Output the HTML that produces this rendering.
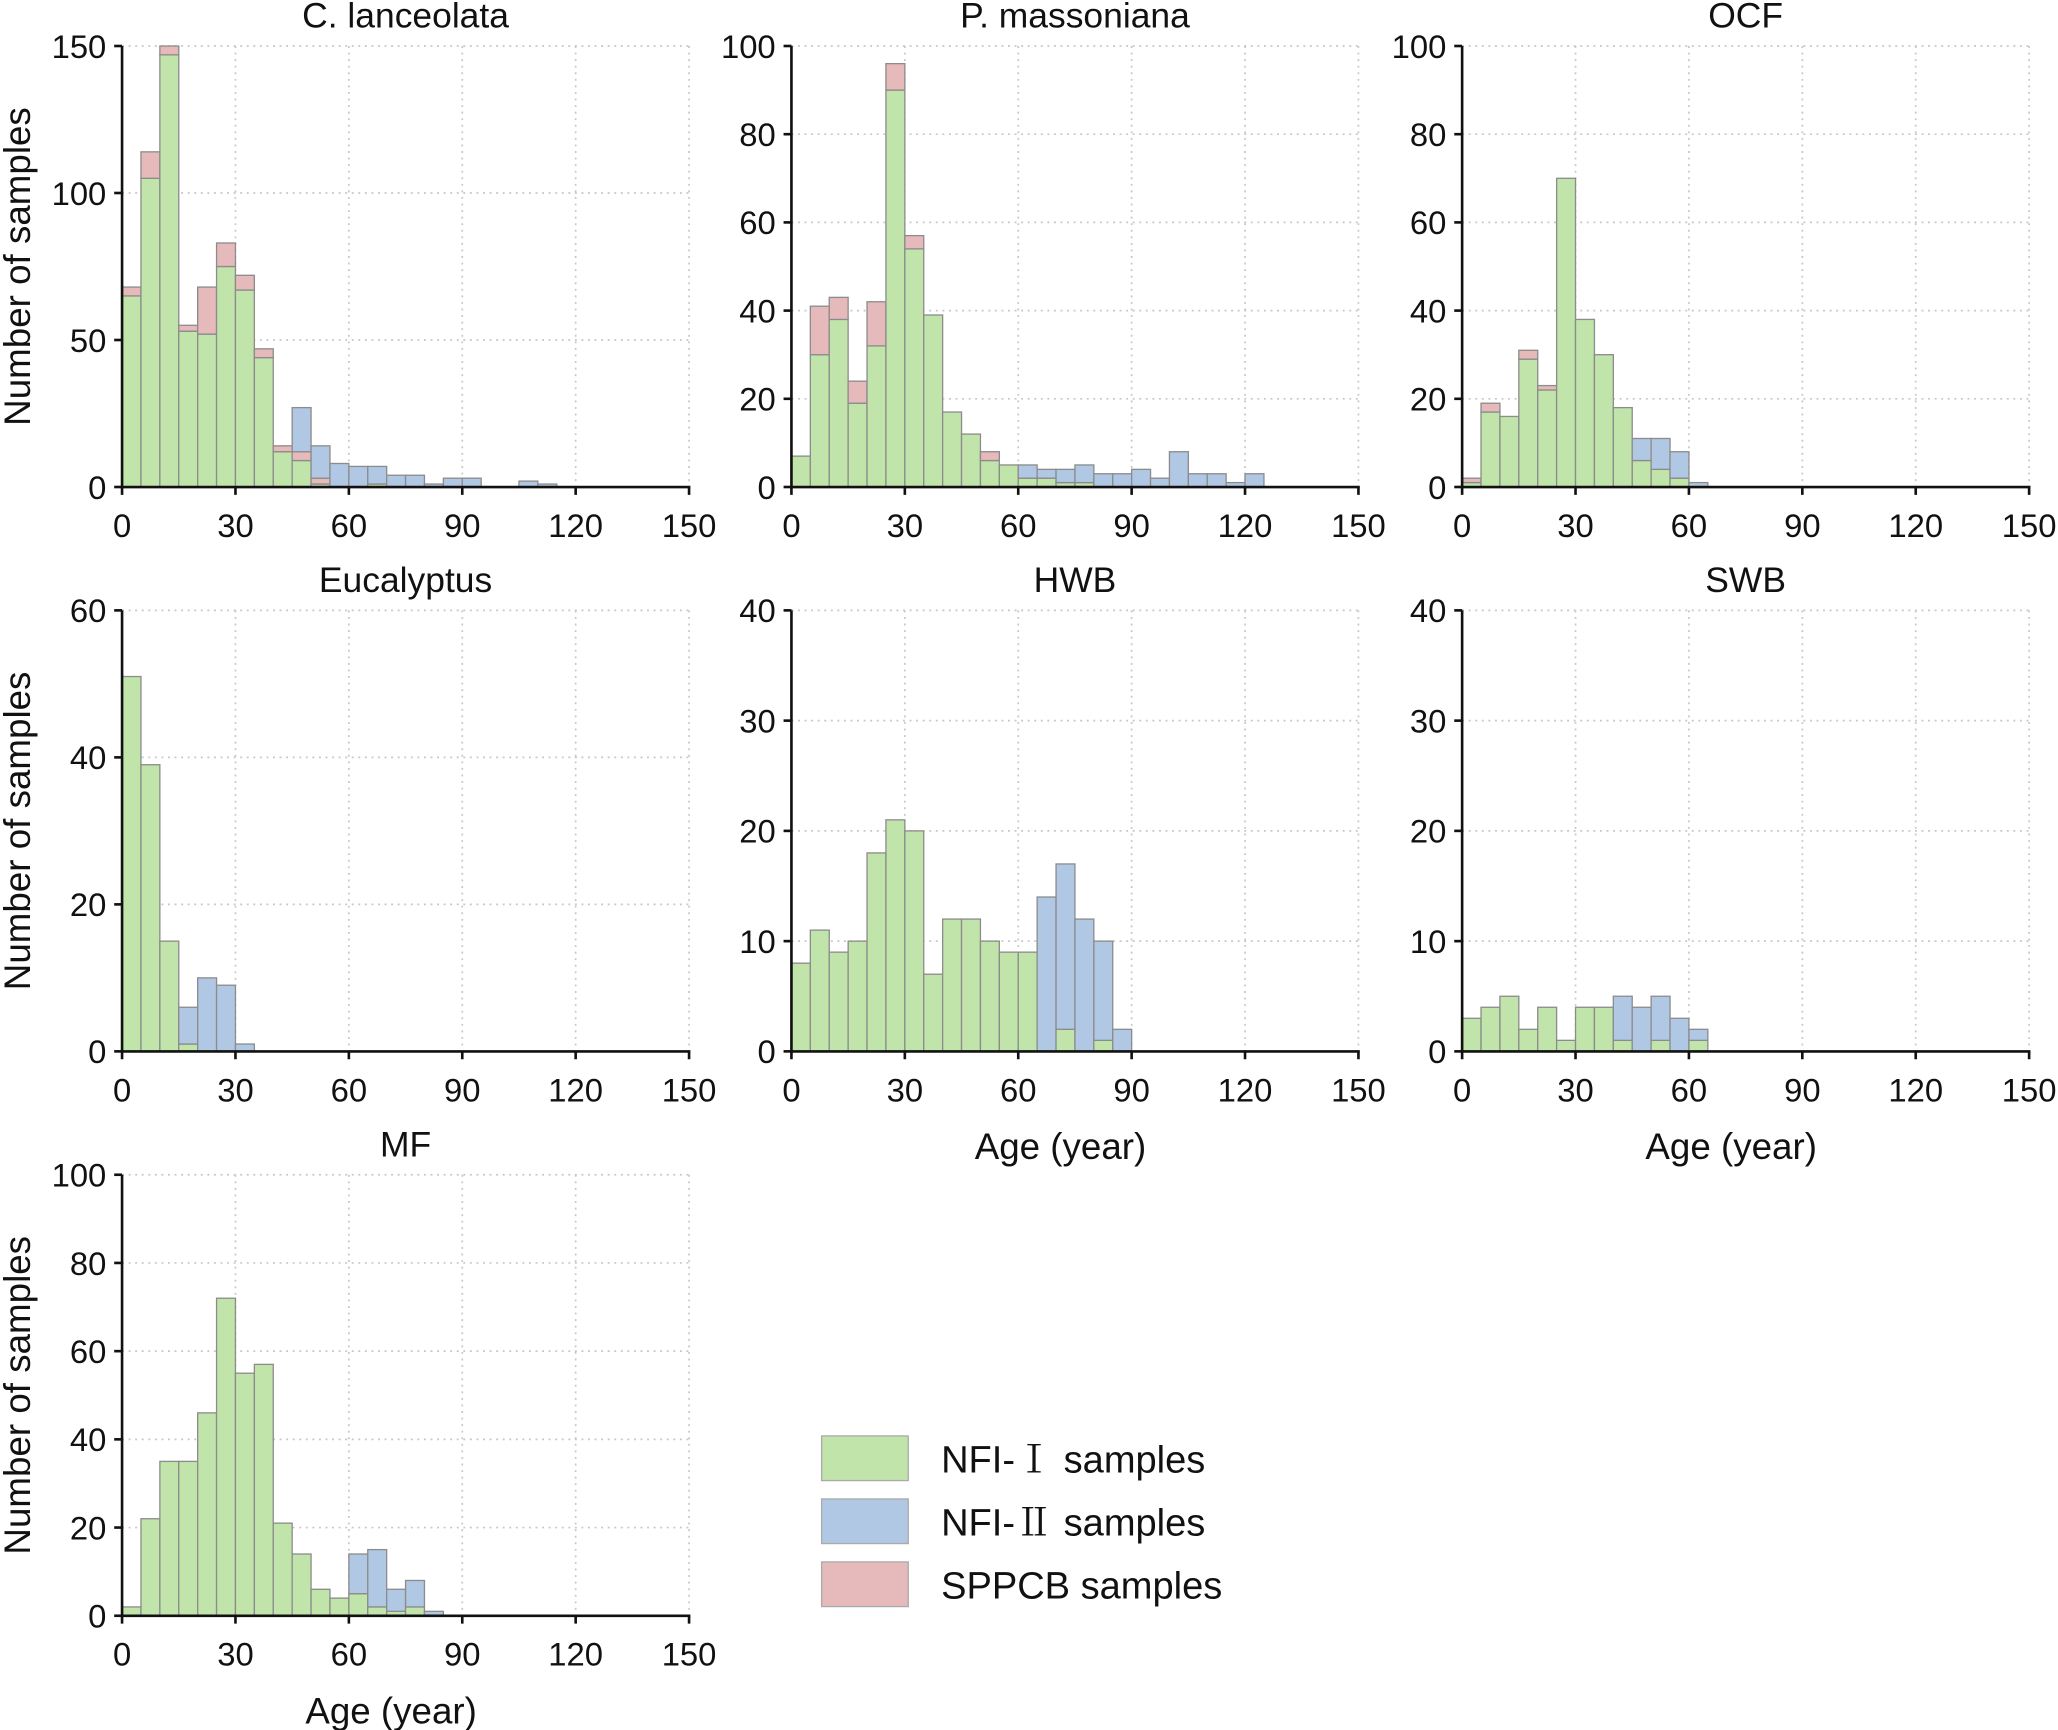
<!DOCTYPE html>
<html><head><meta charset="utf-8">
<style>
html,body{margin:0;padding:0;background:#fff;}
svg{display:block;}
text{font-family:"Liberation Sans","Noto Sans CJK SC",sans-serif;fill:#111;}
</style></head>
<body>
<svg id="chart" width="2058" height="1730" viewBox="0 0 1568 1318" xmlns="http://www.w3.org/2000/svg"></svg>
<script>
// Shared axis data
const xTicks = [0, 30, 60, 90, 120, 150];
const binWidth = 5;

// C. lanceolata
const clGreen = [65,105,147,53,52,75,67,44,12,9,1,0,0,1];
const clPink  = [3,9,3,2,16,8,5,3,2,3,2];
const clBlue  = [0,0,0,0,0,0,0,0,0,15,11,8,7,6,4,4,1,3,3,0,0,2,1];
const clTicks = [0,50,100,150];
// P. massoniana
const pmGreen = [7,30,38,19,32,90,54,39,17,12,6,5,2,2,1,1];
const pmPink  = [0,11,5,5,10,6,3,0,0,0,2];
const pmBlue  = [0,0,0,0,0,0,0,0,0,0,0,0,3,2,3,4,3,3,4,2,8,3,3,1,3];
const pmTicks = [0,20,40,60,80,100];
// OCF
const ocGreen = [1,17,16,29,22,70,38,30,18,6,4,2];
const ocPink  = [1,2,0,2,1];
const ocBlue  = [0,0,0,0,0,0,0,0,0,5,7,6,1];
const ocTicks = [0,20,40,60,80,100];
// Eucalyptus
const euGreen = [51,39,15,1];
const euPink  = [];
const euBlue  = [0,0,0,5,10,9,1];
const euTicks = [0,20,40,60];
// HWB
const hwGreen = [8,11,9,10,18,21,20,7,12,12,10,9,9,0,2,0,1];
const hwPink  = [];
const hwBlue  = [0,0,0,0,0,0,0,0,0,0,0,0,0,14,15,12,9,2];
const hwTicks = [0,10,20,30,40];
// SWB
const swGreen = [3,4,5,2,4,1,4,4,1,0,1,0,1];
const swPink  = [];
const swBlue  = [0,0,0,0,0,0,0,0,4,4,4,3,1];
const swTicks = [0,10,20,30,40];
// MF
const mfGreen = [2,22,35,35,46,72,55,57,21,14,6,4,5,2,1,2];
const mfPink  = [];
const mfBlue  = [0,0,0,0,0,0,0,0,0,0,0,0,9,13,5,6,1];
const mfTicks = [0,20,40,60,80,100];

const NS = "http://www.w3.org/2000/svg";
const svg = document.getElementById('chart');
function mk(tag, attrs, parent){
  const e = document.createElementNS(NS, tag);
  for (const k in attrs) e.setAttribute(k, attrs[k]);
  (parent||svg).appendChild(e);
  return e;
}
const COL = {green:'#c1e4aa', blue:'#b0c8e4', pink:'#e6b9bb', stroke:'#8c8c8c'};

const panels = [
  {key:'c-lanceolata', title:'C. lanceolata', x0:93, y0:35, g:clGreen, p:clPink, b:clBlue, yt:clTicks, ylab:true, xlab:false},
  {key:'p-massoniana', title:'P. massoniana', x0:603, y0:35, g:pmGreen, p:pmPink, b:pmBlue, yt:pmTicks, ylab:false, xlab:false},
  {key:'ocf', title:'OCF', x0:1114, y0:35, g:ocGreen, p:ocPink, b:ocBlue, yt:ocTicks, ylab:false, xlab:false},
  {key:'eucalyptus', title:'Eucalyptus', x0:93, y0:465, g:euGreen, p:euPink, b:euBlue, yt:euTicks, ylab:true, xlab:false},
  {key:'hwb', title:'HWB', x0:603, y0:465, g:hwGreen, p:hwPink, b:hwBlue, yt:hwTicks, ylab:false, xlab:true},
  {key:'swb', title:'SWB', x0:1114, y0:465, g:swGreen, p:swPink, b:swBlue, yt:swTicks, ylab:false, xlab:true},
  {key:'mf', title:'MF', x0:93, y0:895, g:mfGreen, p:mfPink, b:mfBlue, yt:mfTicks, ylab:true, xlab:true}
];
const W = 432, H = 336;

panels.forEach(pn => {
  const grp = mk('g', {});
  
  
  const yMax = pn.yt[pn.yt.length-1];
  const xs = v => pn.x0 + v / 150 * W;
  const ys = v => pn.y0 + H - v / yMax * H;
  const base = pn.y0 + H;
  xTicks.forEach(t => { if (t>0) {
    const l = mk('line', {x1:xs(t), x2:xs(t), y1:pn.y0, y2:base, stroke:'#c8c8c8', 'stroke-width':1.3, 'stroke-dasharray':'1.5 3.5'}, grp);
    
    
  }});
  pn.yt.forEach(t => { if (t>0) {
    const l = mk('line', {x1:pn.x0, x2:pn.x0+W, y1:ys(t), y2:ys(t), stroke:'#c8c8c8', 'stroke-width':1.3, 'stroke-dasharray':'1.5 3.5'}, grp);
    
    
  }});
  const n = Math.max(pn.g.length, pn.p.length, pn.b.length);
  for (let i=0;i<n;i++){
    const g = pn.g[i]||0, p = pn.p[i]||0, b = pn.b[i]||0;
    const xl = xs(i*binWidth), xr = xs((i+1)*binWidth);
    const segs = [[g,COL.green,'nfi1'],[p,COL.pink,'sppcb'],[b,COL.blue,'nfi2']];
    let acc = 0;
    segs.forEach(s => {
      if (s[0] > 0){
        const r = mk('rect', {x:xl, width:xr-xl, y:ys(acc+s[0]), height:ys(acc)-ys(acc+s[0]), fill:s[1], stroke:COL.stroke, 'stroke-width':1}, grp);
        
        
        acc += s[0];
      }
    });
  }
  const ya = mk('line', {x1:pn.x0, x2:pn.x0, y1:pn.y0, y2:base+1, stroke:'#111', 'stroke-width':2}, grp);
  
  
  const xa = mk('line', {x1:pn.x0-1, x2:pn.x0+W+1, y1:base, y2:base, stroke:'#111', 'stroke-width':2}, grp);
  
  
  xTicks.forEach(t => {
    mk('line', {x1:xs(t), x2:xs(t), y1:base, y2:base+6, stroke:'#111', 'stroke-width':2}, grp);
    const tx = mk('text', {x:xs(t), y:base+38, 'font-size':25, 'text-anchor':'middle'}, grp);
    tx.textContent = t;
    
    
  });
  pn.yt.forEach(t => {
    mk('line', {x1:pn.x0-6, x2:pn.x0, y1:ys(t), y2:ys(t), stroke:'#111', 'stroke-width':2}, grp);
    const tx = mk('text', {x:pn.x0-12, y:ys(t)+9, 'font-size':25, 'text-anchor':'end'}, grp);
    tx.textContent = t;
    
    
  });
  const tt = mk('text', {x:pn.x0+W/2, y:pn.y0-14, 'font-size':27, 'text-anchor':'middle'}, grp);
  tt.textContent = pn.title;
  
  
  if (pn.ylab){
    const cy = pn.y0 + H/2;
    const yl = mk('text', {x:0, y:0, 'font-size':28, 'text-anchor':'middle', transform:'translate(23,'+cy+') rotate(-90)'}, grp);
    yl.textContent = 'Number of samples';
    
    
  }
  if (pn.xlab){
    const xl = mk('text', {x:pn.x0+W/2-11, y:base+82, 'font-size':28, 'text-anchor':'middle'}, grp);
    xl.textContent = 'Age (year)';
    
    
  }
});

// legend
const legendPrefix = ['NFI-','NFI-','SPPCB'];
const legendNumeral = ['Ⅰ','Ⅱ',''];
const legendColors = [COL.green, COL.blue, COL.pink];
const lg = mk('g', {});


legendPrefix.forEach((lab, i) => {
  const y = 1094 + i*48;
  const r = mk('rect', {x:626, y:y, width:66, height:34, fill:legendColors[i], stroke:'#aaa', 'stroke-width':1}, lg);
  
  
  const t = mk('text', {x:717, y:y+28, 'font-size':29}, lg);
  
  
  const s1 = mk('tspan', {}, t); s1.textContent = lab;
  if (legendNumeral[i]) {
    const s2 = mk('tspan', {'font-family':'"Noto Serif CJK SC","Noto Sans CJK SC",serif'}, t);
    s2.textContent = legendNumeral[i];
  }
  const s3 = mk('tspan', {}, t); s3.textContent = (i===0 ? '  ' : ' ') + 'samples';
  if (i===0) s3.setAttribute('xml:space','preserve');
});
</script>
</body></html>
